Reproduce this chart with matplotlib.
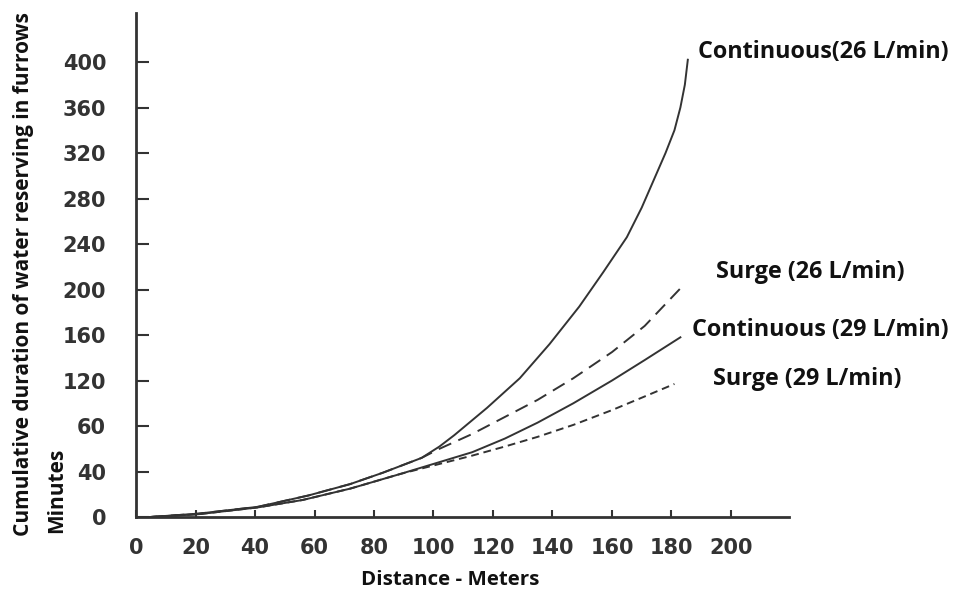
import matplotlib
matplotlib.use("Agg")
import matplotlib.pyplot as plt

# values (y in axis units, 40 per tick step)
cont26_x = [4.5, 21, 41, 58, 72, 83, 96, 102, 107, 118, 129, 139, 149, 157, 165, 170, 174, 178, 181, 183, 184.5, 185.5]
cont26_y = [0, 3, 9, 19, 29, 39, 52, 62, 72, 96, 122, 152, 185, 215, 246, 272, 296, 320, 340, 360, 380, 402]

surge26_x = [4.5, 21, 41, 58, 72, 83, 96, 102, 113, 124, 135, 147, 160, 171, 183]
surge26_y = [0, 3, 9, 19, 29, 39, 52, 60, 73, 88, 103, 122, 145, 168, 201]

cont29_x = [4.5, 21, 41, 56, 72, 89, 101, 113, 124, 135, 147, 160, 171, 183]
cont29_y = [0, 2.5, 8.5, 15, 25, 38, 47.5, 57, 69, 83, 100, 120, 138, 158]

surge29_x = [4.5, 21, 41, 56, 72, 89, 101, 113, 124, 135, 147, 160, 171, 181]
surge29_y = [0, 2.5, 8.5, 15, 25, 38, 46, 54, 62, 70.5, 81, 94, 106, 117]

x_ticks = [0, 20, 40, 60, 80, 100, 120, 140, 160, 180, 200]
y_ticks = [0, 40, 80, 120, 160, 200, 240, 280, 320, 360, 400]
y_tick_labels = ['0', '40', '60', '120', '160', '200', '240', '280', '320', '360', '400']

labels = ['Continuous(26 L/min)', 'Surge (26 L/min)', 'Continuous (29 L/min)', 'Surge (29 L/min)']
label_x = [189, 195, 187, 194]
label_y = [409, 215, 164, 121]

ink = '#333333'
fig = plt.figure(figsize=(9.54, 5.95), dpi=100)
ax = fig.add_axes([0.1426, 0.131, 0.827 - 0.1426, 0.978 - 0.131])

ax.plot(cont26_x, cont26_y, color=ink, lw=1.4)
ax.plot(surge26_x, surge26_y, color=ink, lw=1.4, dashes=(7, 4))
ax.plot(cont29_x, cont29_y, color=ink, lw=1.4)
ax.plot(surge29_x, surge29_y, color=ink, lw=1.4, dashes=(4, 2.5))

for t, tx, ty in zip(labels, label_x, label_y):
    ax.text(tx, ty, t, fontsize=16.8, fontweight='bold', family='Open Sans',
            va='center', ha='left', color='#111111')

ax.set_xlim(0, 219.5)
ax.set_ylim(0, 443)
ax.set_xticks(x_ticks)
ax.set_yticks(y_ticks)
ax.set_yticklabels(y_tick_labels)

for s in ['top', 'right']:
    ax.spines[s].set_visible(False)
for s in ['left', 'bottom']:
    ax.spines[s].set_linewidth(2)
    ax.spines[s].set_color(ink)

ax.tick_params(axis='y', direction='in', length=9, width=1.5, color=ink,
               labelsize=15, labelcolor=ink, pad=21.5)
ax.tick_params(axis='x', direction='in', length=5, width=1.5, color=ink,
               labelsize=15, labelcolor=ink, pad=15)
for lab in ax.get_xticklabels() + ax.get_yticklabels():
    lab.set_fontweight('bold')

fig.text(0.472, 0.025, 'Distance - Meters', fontsize=14.75, fontweight='bold',
         family='Open Sans', ha='center', va='center', color='#111111')
fig.text(0.014, 0.1, 'Cumulative duration of water reserving in furrows', rotation=90,
         fontsize=15, fontweight='bold', family='Open Sans', ha='left', va='bottom',
         color='#111111')
fig.text(0.048, 0.105, 'Minutes', rotation=90, fontsize=15, fontweight='bold',
         family='Open Sans', ha='left', va='bottom', color='#111111')

fig.savefig('out.png', dpi=100)
